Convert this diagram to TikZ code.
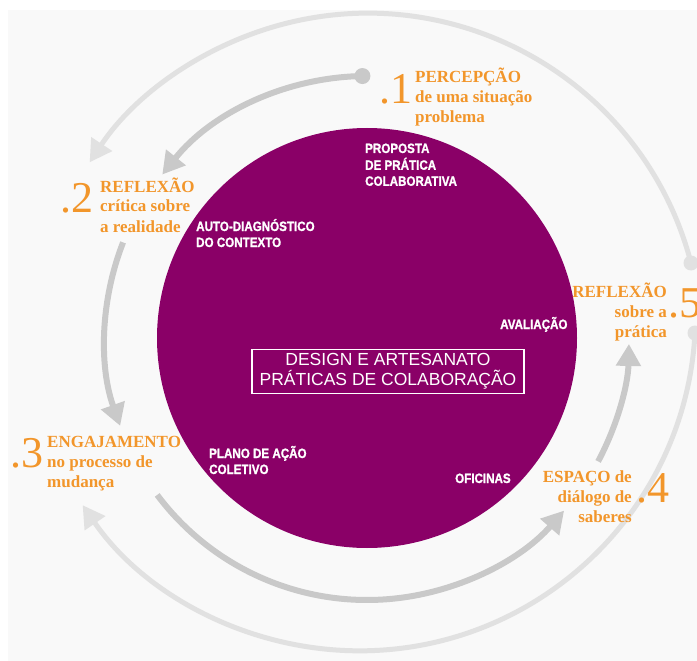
\documentclass[tikz,border=0pt]{standalone}
\usepackage{fontspec}
\setmainfont{Liberation Serif}
\setsansfont{Liberation Sans}
\newfontfamily\narrowfont{Liberation Sans}[FakeStretch=0.86, BoldFeatures={FakeBold=1.2}]
\usetikzlibrary{arrows.meta}

\definecolor{hubpurple}{HTML}{8A0067}
\definecolor{stageorange}{HTML}{F2962B}
\definecolor{innergray}{HTML}{C9C9C9}
\definecolor{outergray}{HTML}{E1E1E1}
\definecolor{paper}{HTML}{F9F9F9}

\newcommand{\leftlines}[1]{\begin{tabular}[t]{@{}l@{}}#1\end{tabular}}
\newcommand{\rightlines}[1]{\begin{tabular}[t]{@{}r@{}}#1\end{tabular}}

\tikzset{
  stage/.style={text=stageorange, font=\fontsize{17}{20}\selectfont\bfseries, inner sep=0pt},
  stagenum/.style={text=stageorange, font=\fontsize{44}{44}\selectfont, inner sep=0pt},
  inlabel/.style={text=white, font=\narrowfont\fontsize{13.5}{16}\selectfont\bfseries, inner sep=0pt, anchor=base west},
  innerarc/.style={draw=innergray, line width=6pt, -{Triangle[length=22pt,width=24pt]}},
  outerarc/.style={draw=outergray, line width=5pt, -{Triangle[length=22pt,width=24pt]}},
}

\begin{document}
\begin{tikzpicture}[x=1pt,y=-1pt]
  \useasboundingbox (0,0) rectangle (697,661);
  \clip (0,0) rectangle (697,661);
  \fill[paper] (8,10) rectangle (697,661);

  % outer ring
  \coordinate (dotA) at (691,263);
  \coordinate (dotB) at (695,333);
  \draw[outerarc] (dotA) arc[start angle=-14.6, end angle=-146.4, radius=334];
  \draw[outerarc] (dotB) arc[start angle=3.1, end angle=145.5, radius=336];
  \fill[outergray] (dotA) circle (7.5);
  \fill[outergray] (dotB) circle (7.5);

  % centre
  \node[circle, fill=hubpurple, minimum size=420pt, inner sep=0pt] (hub) at (367,338) {};

  % inner ring
  \coordinate (dotone) at ([shift={(-91:262)}]hub.center);
  \coordinate (ringtwo) at ([shift={(-158.6:262)}]hub.center);
  \coordinate (ringthree) at ([shift={(-216.8:262)}]hub.center);
  \coordinate (ringfour) at ([shift={(-331.9:262)}]hub.center);
  \draw[innerarc] (dotone) arc[start angle=-91, end angle=-141.4, radius=262];
  \draw[innerarc] (ringtwo) arc[start angle=-158.6, end angle=-199.6, radius=262];
  \draw[innerarc] (ringthree) arc[start angle=-216.8, end angle=-318.8, radius=262];
  \draw[innerarc] (ringfour) arc[start angle=-331.9, end angle=-358.7, radius=262];
  \fill[innergray] (dotone) circle (8);

  \node[draw=white, line width=1.5pt, text=white, font=\sffamily\fontsize{17.5}{20}\selectfont,
    align=center, minimum width=272pt, minimum height=44pt, inner sep=2pt] (title) at (388,371.5)
    {DESIGN E ARTESANATO\\PRÁTICAS DE COLABORAÇÃO};

  % steps inside the circle
  \node[inlabel] (proposta) at (365,153) {\leftlines{PROPOSTA\\DE PRÁTICA\\COLABORATIVA}};
  \node[inlabel] (autodiag) at (196,231) {\leftlines{AUTO-DIAGNÓSTICO\\DO CONTEXTO}};
  \node[inlabel] (avaliacao) at (500,329) {AVALIAÇÃO};
  \node[inlabel] (plano) at (209,458) {\leftlines{PLANO DE AÇÃO\\COLETIVO}};
  \node[inlabel] (oficinas) at (455,483) {OFICINAS};

  % stages
  \node[stage, anchor=base west] (percepcao) at (415,83) {\leftlines{PERCEPÇÃO\\de uma situação\\problema}};
  \node[stagenum, anchor=base east] (numone) at (413,103) {.1};
  \node[stage, anchor=base west] (reflexao) at (100,192) {\leftlines{REFLEXÃO\\crítica sobre\\a realidade}};
  \node[stagenum, anchor=base east] (numtwo) at (94,212) {.2};
  \node[stage, anchor=base west] (engaja) at (47,447) {\leftlines{ENGAJAMENTO\\no processo de\\mudança}};
  \node[stagenum, anchor=base east] (numthree) at (44,467) {.3};
  \node[stage, anchor=base east] (espaco) at (632,482) {\rightlines{ESPAÇO de\\diálogo de\\saberes}};
  \node[stagenum, anchor=base west] (numfour) at (636,502) {.4};
  \node[stage, anchor=base east] (pratica) at (667,297) {\rightlines{REFLEXÃO\\sobre a\\prática}};
  \node[stagenum, anchor=base west] (numfive) at (668,317) {.5};
\end{tikzpicture}
\end{document}
